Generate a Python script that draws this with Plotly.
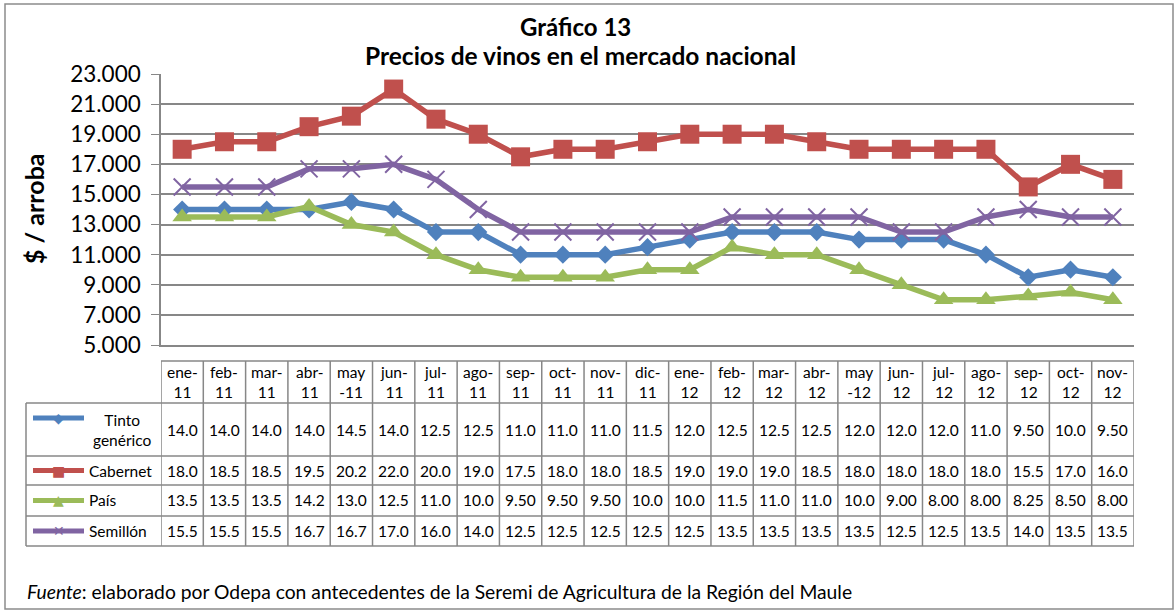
import plotly.graph_objects as go

months = ['ene-11', 'feb-11', 'mar-11', 'abr-11', 'may-11', 'jun-11', 'jul-11', 'ago-11',
          'sep-11', 'oct-11', 'nov-11', 'dic-11', 'ene-12', 'feb-12', 'mar-12', 'abr-12',
          'may-12', 'jun-12', 'jul-12', 'ago-12', 'sep-12', 'oct-12', 'nov-12']
month_labels = ['ene-<br>11', 'feb-<br>11', 'mar-<br>11', 'abr-<br>11', 'may<br>-11', 'jun-<br>11',
                'jul-<br>11', 'ago-<br>11', 'sep-<br>11', 'oct-<br>11', 'nov-<br>11', 'dic-<br>11',
                'ene-<br>12', 'feb-<br>12', 'mar-<br>12', 'abr-<br>12', 'may<br>-12', 'jun-<br>12',
                'jul-<br>12', 'ago-<br>12', 'sep-<br>12', 'oct-<br>12', 'nov-<br>12']

tinto = [14000, 14000, 14000, 14000, 14500, 14000, 12500, 12500, 11000, 11000, 11000, 11500,
         12000, 12500, 12500, 12500, 12000, 12000, 12000, 11000, 9500, 10000, 9500]
cabernet = [18000, 18500, 18500, 19500, 20200, 22000, 20000, 19000, 17500, 18000, 18000, 18500,
            19000, 19000, 19000, 18500, 18000, 18000, 18000, 18000, 15500, 17000, 16000]
pais = [13500, 13500, 13500, 14200, 13000, 12500, 11000, 10000, 9500, 9500, 9500, 10000,
        10000, 11500, 11000, 11000, 10000, 9000, 8000, 8000, 8250, 8500, 8000]
semillon = [15500, 15500, 15500, 16700, 16700, 17000, 16000, 14000, 12500, 12500, 12500, 12500,
            12500, 13500, 13500, 13500, 13500, 12500, 12500, 13500, 14000, 13500, 13500]

# name, values, colour, marker, marker size, legend glyph
series = [
    ('Tinto<br>genérico', tinto, '#4F81BD', 'diamond', 14, '◆'),
    ('Cabernet', cabernet, '#C0504D', 'square', 19, '■'),
    ('País', pais, '#9BBB59', 'triangle-up', 17, '▲'),
    ('Semillón', semillon, '#8064A2', 'x-thin-open', 17, '✕'),
]

W, H = 1175, 614
L, R, T, B = 161, 1134, 74, 345
FONT = 'Lato'
GRID = '#878787'


def px(x):
    return (x - L) / (R - L)


def py(y):
    return (B - y) / (B - T)


def text(x, y, s, size=15.5, xref='paper', xanchor='center', **kw):
    return dict(x=x, y=py(y), xref=xref, yref='paper', text=s, showarrow=False,
                xanchor=xanchor, yanchor='middle', font=dict(family=FONT, size=size, color='#000'), **kw)


fig = go.Figure()
for name, vals, color, sym, msize, _ in series:
    fig.add_trace(go.Scatter(
        x=months, y=vals, mode='lines+markers', name=name.replace('<br>', ' '),
        line=dict(color=color, width=5.5),
        marker=dict(symbol=sym, size=msize, color=color,
                    line=dict(color=color, width=2 if sym == 'x-thin-open' else 0)),
        showlegend=False,
    ))

shapes = []
ann = []

# outer frame
shapes.append(dict(type='rect', xref='paper', yref='paper', x0=px(5), x1=px(1173), y0=py(609), y1=py(4),
                   line=dict(color='#8C8C8C', width=1.5)))

# data table grid
n = len(months)
row_y = [361, 403, 456, 485, 516, 546]
shapes.append(dict(type='line', xref='paper', yref='paper', x0=0, x1=1, y0=py(361), y1=py(361),
                   line=dict(color=GRID, width=1.5)))
for yy in row_y[1:]:
    shapes.append(dict(type='line', xref='paper', yref='paper', x0=px(26), x1=1, y0=py(yy), y1=py(yy),
                       line=dict(color=GRID, width=1.5)))
for i in range(n + 1):
    shapes.append(dict(type='line', xref='x', yref='paper', x0=i - 0.5, x1=i - 0.5, y0=py(361), y1=py(546),
                       line=dict(color=GRID, width=1.5)))
shapes.append(dict(type='line', xref='paper', yref='paper', x0=px(26), x1=px(26), y0=py(403), y1=py(546),
                   line=dict(color=GRID, width=1.5)))

for i, lab in enumerate(month_labels):
    ann.append(text(i, 382, lab, xref='x'))


def fmt(v):
    v = v / 1000
    return f'{v:.1f}' if v >= 10 else f'{v:.2f}'


centers = [429.5, 470.5, 500.5, 531]
for (name, vals, color, sym, msize, glyph), cy in zip(series, centers):
    for i, v in enumerate(vals):
        ann.append(text(i, cy, fmt(v), xref='x'))
    ly = 418 if '<br>' in name else cy
    shapes.append(dict(type='line', xref='paper', yref='paper', x0=px(33), x1=px(84), y0=py(ly),
                       y1=py(ly), line=dict(color=color, width=5)))
    g = text(px(58.5), ly, glyph)
    g['font'] = dict(family='DejaVu Sans', size=14, color=color)
    ann.append(g)
    if '<br>' in name:
        ann.append(text(px(122), cy, name, align='center'))
    else:
        ann.append(text(px(87), cy, name, xanchor='left'))

# titles
ann.append(text(px(575), 27, '<b>Gráfico 13</b>', size=24))
ann.append(text(px(580), 55, '<b>Precios de vinos en el mercado nacional</b>', size=24.5))
ann.append(text(px(34), 209, '<b>$ / arroba</b>', size=25, textangle=-90))
ann.append(text(px(25), 591, '<i>Fuente</i>: elaborado por Odepa con antecedentes de la Seremi de '
                              'Agricultura de la Región del Maule', size=19.3, xanchor='left'))

fig.update_layout(
    width=W, height=H,
    margin=dict(l=L, r=W - R, t=T, b=H - B),
    paper_bgcolor='white', plot_bgcolor='white',
    separators=',.',
    shapes=shapes, annotations=ann,
    xaxis=dict(type='category', range=[-0.5, n - 0.5], showticklabels=False, showgrid=False,
               showline=True, linecolor=GRID, linewidth=1.5, ticks=''),
    yaxis=dict(range=[5000, 23000], tick0=5000, dtick=2000, tickformat=',d', showgrid=True,
               gridcolor=GRID, gridwidth=1.5, showline=True, linecolor=GRID, linewidth=1.5,
               ticks='outside', ticklen=8, tickcolor=GRID, zeroline=False, ticklabelstandoff=6,
               tickfont=dict(family=FONT, size=22.5, color='#000')),
)

fig.write_html('out.html', config={'displayModeBar': False},
               post_script="document.body.style.margin='0';")
